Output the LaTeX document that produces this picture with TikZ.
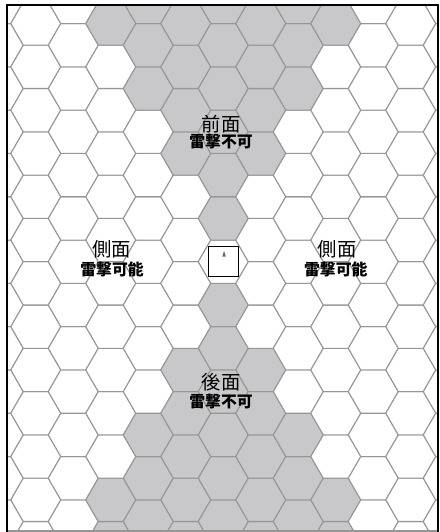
\documentclass[tikz,border=0pt]{standalone}
\usepackage{fontspec}
\newfontfamily\cjk{Noto Sans CJK JP}
\definecolor{hexgray}{RGB}{200,200,202}
\definecolor{hexedge}{RGB}{150,150,150}

\begin{document}
\begin{tikzpicture}[x=0.5cm,y=0.5cm,
  hexline/.style={draw=hexedge,line width=0.6pt},
  bigtxt/.style={font=\cjk\fontsize{11}{12}\selectfont,inner sep=0pt},
  smalltxt/.style={font=\cjk\bfseries\fontsize{9}{10}\selectfont,inner sep=0pt}]
  \useasboundingbox (-8.932,-10.812) rectangle (8.668,10.468);
  \fill[white] (-8.932,-10.812) rectangle (8.668,10.468);
  % hex grid, front and rear arcs in gray
  \begin{scope}
    \clip (-8.652,-10.772) rectangle (8.576,10.268);
    \foreach \c in {-6,...,6} {
      \foreach \j in {-7,...,7} {
        \pgfmathtruncatemacro\k{2*\j+mod(abs(\c),2)}
        \pgfmathtruncatemacro\isgray{or(\k>3*abs(\c),\k<-3*abs(\c))}
        \ifnum\isgray=1 \def\hexfill{hexgray}\else\def\hexfill{white}\fi
        \draw[hexline,fill=\hexfill] ({1.5*\c},{0.866*\k}) +(0:1) -- +(60:1) -- +(120:1)
          -- +(180:1) -- +(240:1) -- +(300:1) -- cycle;
      }
    }
  \end{scope}
  % frame
  \draw[hexedge,line width=0.6pt] (-8.652,-10.772) -- (8.576,-10.772);
  \draw[line width=1.3pt] (-8.652,-10.812) -- (-8.652,10.268) -- (8.576,10.268) -- (8.576,-10.812);
  % unit
  \node[draw,line width=0.85pt,fill=white,minimum size=0.6cm,inner sep=0pt] (unit) at (0,0) {};
  \fill[black!60] (0.03,0.44) -- (0.1,0.2) -- (-0.04,0.2) -- cycle;
  % labels
  \node[bigtxt] (front) at (-0.09,5.51) {前面};
  \node[smalltxt] (frontnote) at (-0.09,4.79) {雷撃不可};
  \node[bigtxt] (leftside) at (-4.47,0.49) {側面};
  \node[smalltxt] (leftnote) at (-4.45,-0.32) {雷撃可能};
  \node[bigtxt] (rightside) at (4.55,0.49) {側面};
  \node[smalltxt] (rightnote) at (4.5,-0.32) {雷撃可能};
  \node[bigtxt] (rear) at (-0.09,-4.81) {後面};
  \node[smalltxt] (rearnote) at (-0.09,-5.61) {雷撃不可};
\end{tikzpicture}
\end{document}
